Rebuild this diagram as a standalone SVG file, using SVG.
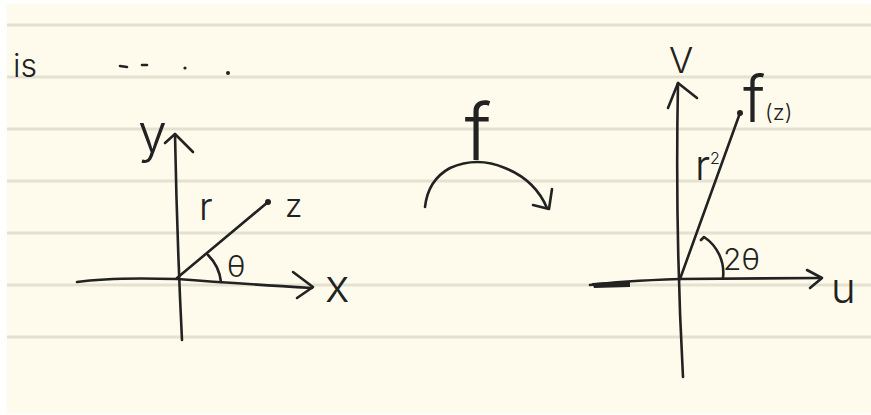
<svg xmlns="http://www.w3.org/2000/svg" width="871" height="415" viewBox="0 0 871 415">
<style>
.ink{fill:none;stroke:#222;stroke-width:2.6;stroke-linecap:round;stroke-linejoin:round}
.rule{stroke:#e4e1d1;stroke-width:3}
.t{font-family:Inter,"Liberation Sans","DejaVu Sans",sans-serif;font-weight:300;fill:#222}
.dot{fill:#222}
</style>
<rect width="871" height="415" fill="#ffffff"/>
<rect x="7" y="4" width="864" height="410" fill="#fefbec"/>
<g id="rules">
<line class="rule" x1="7" y1="25" x2="871" y2="25"/>
<line class="rule" x1="7" y1="77" x2="871" y2="77"/>
<line class="rule" x1="7" y1="129" x2="871" y2="129"/>
<line class="rule" x1="7" y1="181" x2="871" y2="181"/>
<line class="rule" x1="7" y1="233" x2="871" y2="233"/>
<line class="rule" x1="7" y1="285" x2="871" y2="285"/>
<line class="rule" x1="7" y1="337" x2="871" y2="337"/>
</g>
<g id="header">
<text class="t" x="13" y="77" font-size="32">is</text>
<path class="ink" d="M120 66 L127 67 M142 65 L147 65"/>
<circle class="dot" cx="185" cy="68" r="1.6"/>
<circle class="dot" cx="228" cy="73" r="2"/>
</g>
<g id="left-plane">
<path class="ink" d="M175 134 Q177 240 182 340"/>
<path class="ink" d="M165 143 L175 134 L193 152"/>
<path class="ink" d="M77 282 Q110 277 177 279 Q230 283 312 288"/>
<path class="ink" d="M293 272 L313 287 L297 298"/>
<path class="ink" d="M177 278 L268 202"/>
<circle class="dot" cx="268" cy="202" r="3"/>
<path class="ink" d="M208 255 A45 45 0 0 1 221 282"/>
<text class="t" x="138" y="152" font-size="52">y</text>
<text class="t" x="325" y="302" font-size="46">x</text>
<text class="t" x="199" y="220" font-size="38">r</text>
<text class="t" x="285" y="217" font-size="32">z</text>
<text class="t" x="227" y="277" font-size="30">θ</text>
</g>
<g id="mapping">
<text class="t" x="478" y="160" font-size="78" text-anchor="middle">f</text>
<path class="ink" d="M425 207 Q428 180 450 168 Q477 156 505 168 Q535 180 547 208"/>
<path class="ink" d="M533 205 L549 209 L552 189"/>
</g>
<g id="right-plane">
<path class="ink" d="M678 83 Q675 230 683 377"/>
<path class="ink" d="M668 108 L678 83 L697 98"/>
<path class="ink" d="M590 285 Q620 281 680 279 L820 278"/>
<path d="M592 283 L630 281 L630 287 L594 288 Z" fill="#222"/>
<path class="ink" d="M807 270 L822 278 L810 288"/>
<path class="ink" d="M680 279 L740 113"/>
<circle class="dot" cx="740" cy="113" r="3"/>
<path class="ink" d="M701 240 L704 237 A43 43 0 0 1 723 278"/>
<text class="t" x="681" y="73" font-size="36" text-anchor="middle">V</text>
<text class="t" x="831" y="303" font-size="42">u</text>
<text class="t" x="743" y="122" font-size="64">f<tspan font-size="22" dy="-2">(z)</tspan></text>
<text class="t" x="695" y="180" font-size="42">r<tspan font-size="16" dy="-16">2</tspan></text>
<text class="t" x="723" y="270" font-size="30">2θ</text>
</g>
</svg>
